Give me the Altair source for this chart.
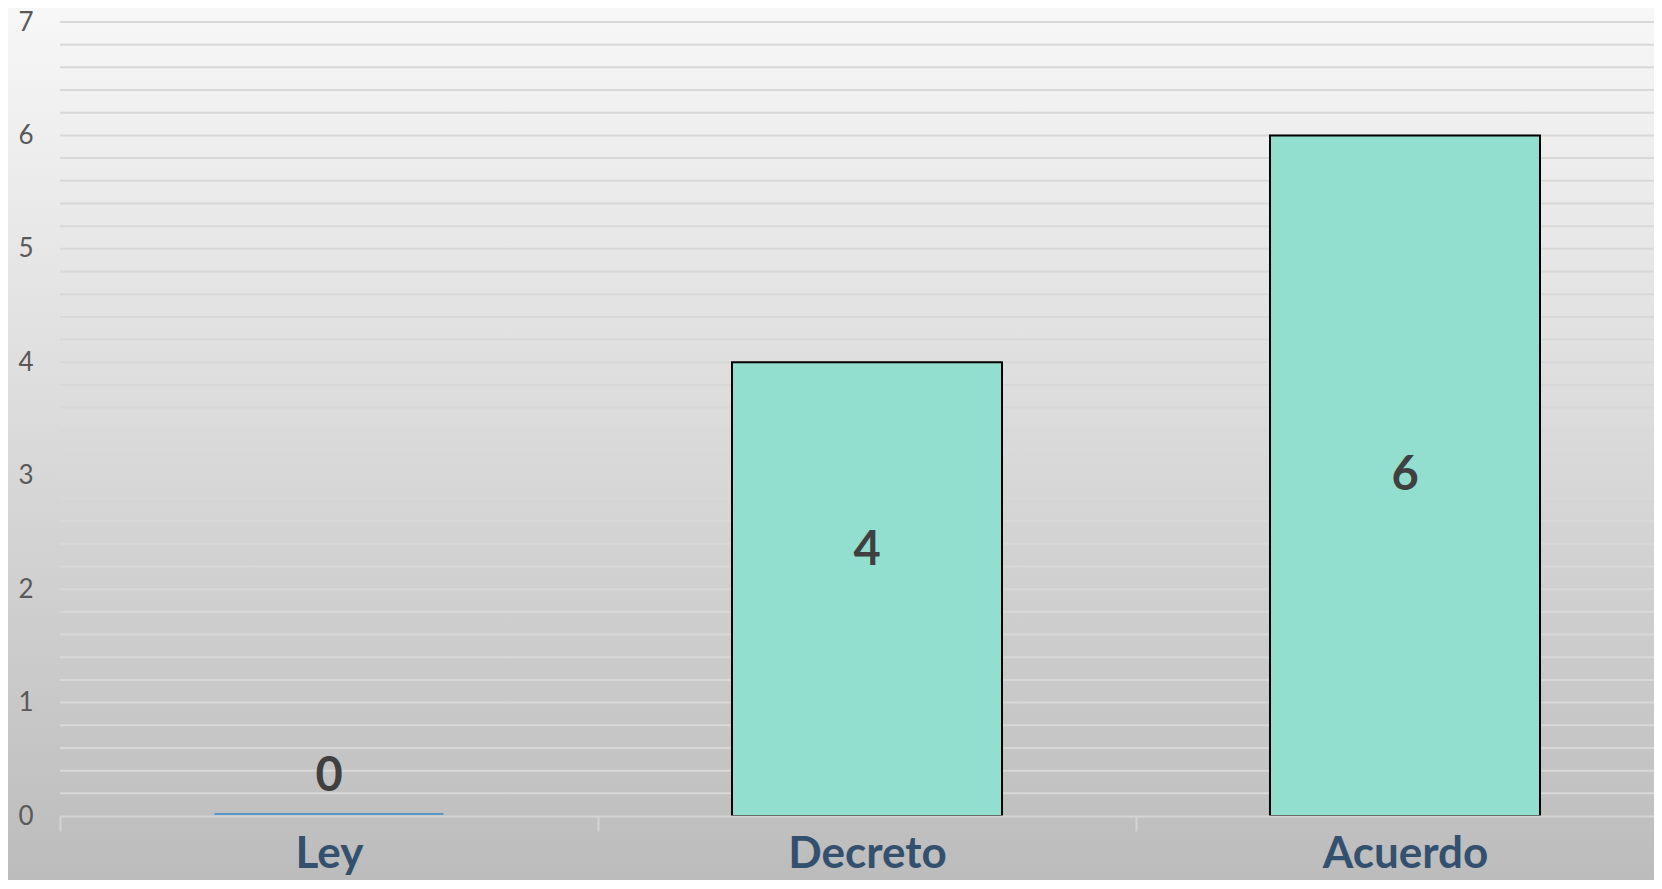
import altair as alt
import pandas as pd

categories = ["Ley", "Decreto", "Acuerdo"]
values = [0, 4, 6]
label_at = [0.34, 2.34, 3.0]          # vertical position of the value labels (data units)
y_ticks = [0, 1, 2, 3, 4, 5, 6, 7]
grid_lines = [round(0.2 * k, 1) for k in range(1, 36)]

W, H = 1594, 794
XR = 1614   # band range runs past the right edge, as in the reference

df = pd.DataFrame({"cat": categories, "value": values, "label_at": label_at})
grid_df = pd.DataFrame({"g": grid_lines})
bg_df = pd.DataFrame({"a": [0]})

x_enc = alt.X(
    "cat:N", sort=categories,
    scale=alt.Scale(paddingInner=0, paddingOuter=0, range=[0, XR]),
    axis=alt.Axis(
        title=None, labelAngle=0, labelFont="Lato", labelFontWeight="bold",
        labelFontSize=44, labelColor="#34506f", domainColor="#d4d4d4",
        domainWidth=2, tickColor="#d4d4d4", tickWidth=2, tickSize=15,
        tickBand="extent", labelPadding=1, grid=False, zindex=1,
    ),
)
y_scale = alt.Scale(domain=[0, 7], nice=False)
y_axis = alt.Axis(
    title=None, values=y_ticks, grid=False, domain=False, ticks=False,
    labelFont="Lato", labelFontSize=26, labelColor="#595959",
    labelPadding=27, zindex=1,
)

bg = alt.Chart(bg_df).mark_rect(
    fill=alt.Gradient(
        gradient="linear",
        stops=[alt.GradientStop(color="#f7f7f7", offset=0),
               alt.GradientStop(color="#bcbcbc", offset=1)],
        x1=0, x2=0, y1=0, y2=1,
    )
).encode(
    x=alt.value(-52), x2=alt.value(W + 8), y=alt.value(-14), y2=alt.value(H + 64)
)

grid = alt.Chart(grid_df).mark_rule(color="#d8d8d8", strokeWidth=2).encode(
    y=alt.Y("g:Q", scale=y_scale, axis=y_axis)
)

bars = alt.Chart(df).transform_filter("datum.value > 0").mark_bar(
    size=270, fill="#92dfcf", stroke="#000000", strokeWidth=2
).encode(
    x=x_enc,
    y=alt.Y("value:Q", scale=y_scale, axis=y_axis),
)

zero = alt.Chart(df).transform_filter("datum.value == 0").mark_tick(
    size=229, thickness=2, color="#2e86c9", orient="horizontal", yOffset=-2
).encode(
    x=x_enc,
    y=alt.Y("value:Q", scale=y_scale, axis=y_axis),
)

labels = alt.Chart(df).mark_text(
    font="Lato", fontWeight="bold", fontSize=47, color="#404040", baseline="middle"
).encode(
    x=x_enc,
    y=alt.Y("label_at:Q", scale=y_scale, axis=y_axis),
    text=alt.Text("value:Q", format="d"),
)

chart = alt.layer(bg, grid, bars, zero, labels).properties(
    width=W, height=H,
    autosize=alt.AutoSizeParams(type="none"),
    padding={"left": 52, "top": 14, "right": 0, "bottom": 64},
    background="#bcbcbc",
).configure_view(stroke=None)

chart.save("out.html", embed_options={"renderer": "svg", "actions": False})
